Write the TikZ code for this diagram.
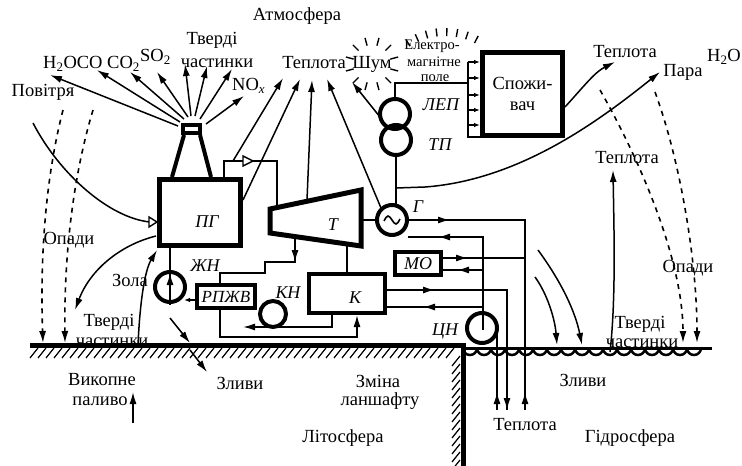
\documentclass[tikz,border=0pt]{standalone}
\usepackage{fontspec}
\setmainfont{Liberation Serif}
\usetikzlibrary{arrows.meta}
\begin{document}
\begin{tikzpicture}[x=1pt,y=-1pt,
  lbl/.style={font=\fontsize{18.5}{19}\selectfont, inner sep=0pt, align=center},
  slbl/.style={font=\fontsize{14.5}{15}\selectfont, inner sep=0pt, align=center},
  ilbl/.style={font=\fontsize{18}{19}\selectfont\itshape, inner sep=0pt},
  ln/.style={line width=1.5pt},
  arr/.style={line width=1.5pt,-{Latex[length=12pt,width=7pt]}},
  sarr/.style={line width=1.2pt,-{Latex[length=6pt,width=4.5pt]}},
  darr/.style={line width=1.6pt,dash pattern=on 5pt off 5pt,-{Latex[length=12pt,width=7pt]}},
  thickbox/.style={draw,line width=5pt,inner sep=0pt},
  midbox/.style={draw,line width=4pt,inner sep=0pt},
  pump/.style={draw,circle,line width=4pt,inner sep=0pt},
]
\useasboundingbox (0,0) rectangle (742,466);
\fill[white] (0,0) rectangle (742,466);

% ---------- labels ----------
\node[lbl] (atm) at (297,16) {Атмосфера};
\node[lbl,anchor=west] (h2oco) at (43,64) {H\textsubscript{2}OCO CO\textsubscript{2}};
\node[lbl,anchor=west] (so2) at (140,57) {SO\textsubscript{2}};
\node[lbl] (tv1) at (212,40) {Тверді};
\node[lbl] (ch1) at (217,63) {частинки};
\node[lbl,anchor=west] (nox) at (232,86) {NO\textsubscript{\itshape x}};
\node[lbl] (pov) at (43,92) {Повітря};
\node[lbl] (tep1) at (314,63) {Теплота};
\node[lbl] (shum) at (372,64) {Шум};
\node[slbl] (el1) at (432,46) {Електро-};
\node[slbl] (el2) at (434,62) {магнітне};
\node[slbl] (el3) at (435,78) {поле};
\node[ilbl] (lep) at (441,105) {ЛЕП};
\node[ilbl] (tp) at (440,145) {ТП};
\node[lbl] (tep2) at (625,52) {Теплота};
\node[lbl] (para) at (683,72) {Пара};
\node[lbl] (h2o) at (724,57) {H\textsubscript{2}O};
\node[lbl] (tep3) at (627,158) {Теплота};
\node[lbl] (opr) at (688,268) {Опади};
\node[lbl] (opl) at (69,240) {Опади};
\node[lbl] (zola) at (130,280) {Зола};
\node[lbl] (tv2) at (109,322) {Тверді};
\node[lbl] (ch2) at (112,342) {частинки};
\node[lbl] (tv3) at (640,324) {Тверді};
\node[lbl] (ch3) at (642,343) {частинки};
\node[lbl] (zl1) at (240,383) {Зливи};
\node[lbl] (zl2) at (583,380) {Зливи};
\node[lbl] (vyk1) at (102,380) {Викопне};
\node[lbl] (vyk2) at (100,401) {паливо};
\node[lbl] (zm1) at (378,381) {Зміна};
\node[lbl] (zm2) at (380,401) {ланшафту};
\node[lbl] (lit) at (343,438) {Літосфера};
\node[lbl] (gid) at (630,438) {Гідросфера};
\node[lbl] (tep4) at (525,425) {Теплота};

% ---------- ground ----------
\draw[line width=5pt] (30,345) -- (463,345) -- (463,466);
\foreach \x in {38,46,...,458} \draw[line width=1.2pt] (\x,348) -- (\x-8,358);
\foreach \y in {356,364,...,462} \draw[line width=1.2pt] (460,\y) -- (452,\y+10);
\draw[line width=3pt] (463,348) -- (712,348);
\foreach \x in {470,484,...,706} \draw[line width=2.5pt] (\x-7,348) arc[start angle=180,end angle=0,radius=7];

% ---------- main units ----------
\node[thickbox,minimum width=81pt,minimum height=66pt] (pg) at (200,212.5) {};
\node[ilbl] at (207,222) {ПГ};
\draw[line width=3.5pt] (183,125) rectangle (200,133);
\draw[line width=4pt] (184,135) -- (172,177);
\draw[line width=4pt] (200,135) -- (211,177);

\draw[line width=5pt,line join=miter] (270,209) -- (361,190) -- (361,246) -- (270,233) -- cycle;
\node[ilbl] (tur) at (333,225) {Т};

\node[pump,minimum size=30pt] (gen) at (392,220) {};
\draw[line width=1.6pt] (384,221) sin (388,216) cos (392,220) sin (396,224) cos (400,219);
\node[ilbl] (g) at (418,207) {Г};

\node[pump,minimum size=30pt] (tp1) at (395,114) {};
\node[pump,minimum size=30pt] (tp2) at (396,140) {};

\node[thickbox,minimum width=80pt,minimum height=83pt,font=\fontsize{18.5}{21}\selectfont,align=center] (spo) at (522.5,94) {Спожи-\\вач};

\node[midbox,minimum width=76pt,minimum height=39pt] (k) at (347,293.5) {};
\node[ilbl] at (355,298) {К};
\node[midbox,minimum width=46pt,minimum height=23pt,font=\fontsize{18}{19}\selectfont\itshape] (mo) at (418,263.5) {МО};
\node[midbox,minimum width=58pt,minimum height=23pt,font=\fontsize{17}{18}\selectfont\itshape] (rp) at (226,296.5) {РПЖВ};

\node[pump,minimum size=30pt] (zhn) at (170,287) {};
\node[ilbl] (zhnl) at (205,266) {ЖН};
\node[pump,minimum size=26pt] (kn) at (273,314) {};
\node[ilbl] (knl) at (288,293) {КН};
\node[pump,minimum size=30pt] (cn) at (482,328) {};
\node[ilbl] (cnl) at (445,331) {ЦН};

% ---------- emissions ----------
\draw[arr] (178,126) -- (50,75);
\draw[arr] (180,122) -- (97,70);
\draw[arr] (184,119) -- (130,72);
\draw[arr] (188,117) -- (157,72);
\draw[arr] (191,116) -- (185,64);
\draw[arr] (195,116) -- (207,66);
\draw[arr] (200,119) -- (232,69);
\draw[arr] (206,124) -- (244,96);

% heat / noise
\draw[arr] (233,161) -- (283,78);
\draw[arr] (243,200) -- (300,79);
\draw[arr] (307,200) -- (312,80);
\draw[arr] (381,208) -- (327,79);
\draw[arr] (380,117) -- (352,82);
\foreach \a in {15,45,75,105,135,165,195,225,255,285,315,345}
  \draw[line width=1.4pt] (372,64) ++(\a:-19) -- ++(\a:-8);
\foreach \a in {117,108.5,100,91.5,83,74.5,66,57.5}
  \draw[line width=1.4pt] (445,101) ++(\a:-65) -- ++(\a:-8);

% steam line
\draw[ln] (224,178) -- (224,161) -- (277,161) -- (277,206);
\draw[line width=1.4pt,fill=white] (243,156) -- (253,161) -- (243,166) -- cycle;

% air
\draw[ln] (33,123) .. controls (60,175) and (110,218) .. (150,222);
\draw[line width=1.4pt,fill=white] (149,217) -- (157,222) -- (149,227) -- cycle;

% particles / fuel
\draw[arr] (156,236) .. controls (120,245) and (90,270) .. (75,310);
\draw[arr] (138,345) .. controls (140,300) and (145,270) .. (157,250);
\draw[ln] (133,423) -- (133,405);
\draw[arr] (133,410) -- (133,392);

% precipitation
\draw[darr] (63,110) .. controls (45,180) and (40,260) .. (43,343);
\draw[darr] (93,110) .. controls (72,180) and (64,260) .. (65,343);
\draw[darr] (600,90) .. controls (640,160) and (683,260) .. (683,343);
\draw[darr] (655,92) .. controls (680,160) and (697,260) .. (697,343);

% storms
\draw[arr] (170,318) -- (190,343);
\draw[arr] (190,350) -- (207,372);
\draw[arr] (538,250) .. controls (560,280) and (575,310) .. (582,345);
\draw[arr] (535,277) .. controls (548,295) and (555,320) .. (557,345);

% heat from hydrosphere
\draw[arr] (610,352) .. controls (616,300) and (614,230) .. (613,170);

% electric
\draw[ln] (tp1.north) -- (395,83) -- (468,83);
\draw[ln] (468,62) -- (468,137) -- (480,137);
\foreach \y in {62,78,95,110,125} \draw[sarr] (468,\y) -- (480,\y);
\draw[ln] (tp2.south) -- (396,204);
\draw[ln] (396,188) -- (425,187);
\draw[arr] (425,187) .. controls (520,180) and (600,120) .. (660,72);
\draw[arr] (565,107) .. controls (585,85) and (595,72) .. (615,62);

% shafts
\draw[ln] (361,220) -- (gen.west);
\draw[ln] (347,246) -- (k.north -| 347,0);

% feed water
\draw[ln] (170,248) -- (170,305);
\draw[arr] (170,296) -- (170,273);
\draw[sarr] (195,300) -- (184,300);
\draw[ln] (295,237) -- (295,262) -- (265,262) -- (265,273) -- (220,273) -- (220,283);
\draw[arr] (295,240) -- (295,262);
\draw[ln] (332,315) -- (332,327) -- (262,327);
\draw[arr] (262,327) -- (243,327);
\draw[ln] (220,310) -- (220,337) -- (357,337) -- (357,330);
\draw[arr] (357,337) -- (357,315);

% cooling water
\draw[ln] (408,220) -- (525,220) -- (525,410);
\draw[arr] (420,220) -- (450,220);
\draw[ln] (483,330) -- (483,237) -- (408,237);
\draw[arr] (470,237) -- (438,237);
\draw[ln] (443,258) -- (525,258);
\draw[arr] (447,258) -- (468,258);
\draw[ln] (443,270) -- (483,270);
\draw[arr] (480,270) -- (457,270);
\draw[ln] (387,290) -- (507,290) -- (507,410);
\draw[arr] (400,290) -- (435,290);
\draw[ln] (387,307) -- (483,307);
\draw[arr] (460,307) -- (423,307);
\draw[ln] (497,328) -- (497,410);
\draw[arr] (497,410) -- (497,392);
\draw[arr] (507,392) -- (507,410);
\draw[arr] (525,410) -- (525,392);
\end{tikzpicture}
\end{document}
